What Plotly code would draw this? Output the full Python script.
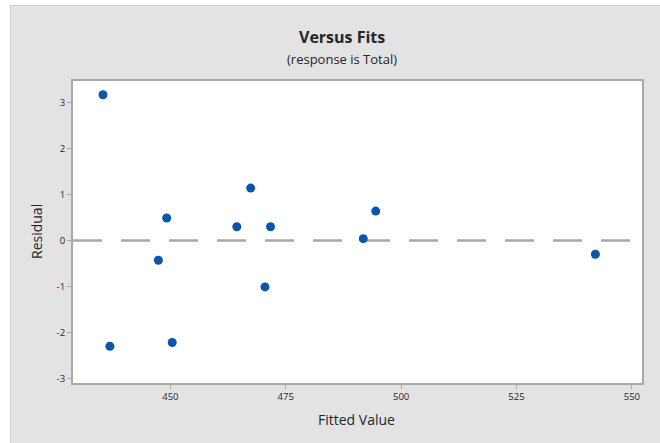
import plotly.graph_objects as go

fitted = [435.4, 436.9, 447.4, 449.2, 450.4, 464.4, 467.4, 470.5, 471.7, 491.8, 494.5, 542.1]
residual = [3.17, -2.30, -0.43, 0.49, -2.22, 0.30, 1.14, -1.01, 0.30, 0.04, 0.64, -0.30]
x_ticks = [450, 475, 500, 525, 550]
y_ticks = [-3, -2, -1, 0, 1, 2, 3]

W, H = 660, 443
L, R, T, B = 73, 642, 81, 383
pw, ph = R - L, B - T

def px(x):
    return (x - L) / pw

def py(y):
    return (B - y) / ph

FONT = "Open Sans"
TXT = "#262626"

fig = go.Figure()
fig.add_trace(go.Scatter(
    x=fitted, y=residual, mode="markers",
    marker=dict(symbol="circle", size=9, color="#0a56a8"),
    hoverinfo="x+y", showlegend=False,
))

axis_common = dict(
    showgrid=False, zeroline=False, showline=True, mirror=True,
    linecolor="#a8a8a8", linewidth=2,
    ticks="outside", ticklen=4, tickcolor="#a8a8a8", tickwidth=1,
    tickfont=dict(family=FONT, size=9.5, color=TXT),
)

fig.update_xaxes(range=[428.9, 552.2], tickvals=x_ticks, ticktext=[str(v) for v in x_ticks],
                 **axis_common)
fig.update_yaxes(range=[-3.10, 3.47], tickvals=y_ticks, ticktext=[str(v) for v in y_ticks],
                 **axis_common)

shapes = [
    # zero reference line
    dict(type="line", xref="paper", yref="y", x0=0, x1=1, y0=0, y1=0,
         line=dict(color="#a8a8a8", width=2.5, dash="29px,19px"), layer="below"),
    # white strips outside frame
    dict(type="rect", xref="paper", yref="paper", x0=px(0), x1=px(10), y0=py(H), y1=py(0),
         fillcolor="white", line=dict(width=0), layer="above"),
    dict(type="rect", xref="paper", yref="paper", x0=px(0), x1=px(W), y0=py(5), y1=py(0),
         fillcolor="white", line=dict(width=0), layer="above"),
    # frame border
    dict(type="rect", xref="paper", yref="paper", x0=px(10.5), x1=px(W + 2), y0=py(H + 2), y1=py(5.5),
         fillcolor="rgba(0,0,0,0)", line=dict(color="#cfcfcf", width=1), layer="above"),
]

annotations = [
    dict(text="<b>Versus Fits</b>", xref="paper", yref="paper", x=px(342), y=py(37),
         showarrow=False, font=dict(family=FONT, size=16, color=TXT), xanchor="center", yanchor="middle"),
    dict(text="(response is Total)", xref="paper", yref="paper", x=px(342), y=py(59),
         showarrow=False, font=dict(family=FONT, size=13, color=TXT), xanchor="center", yanchor="middle"),
    dict(text="Fitted Value", xref="paper", yref="paper", x=px(356), y=py(419),
         showarrow=False, font=dict(family=FONT, size=14, color=TXT), xanchor="center", yanchor="middle"),
    dict(text="Residual", xref="paper", yref="paper", x=px(36), y=py(232), textangle=-90,
         showarrow=False, font=dict(family=FONT, size=14, color=TXT), xanchor="center", yanchor="middle"),
]

fig.update_layout(
    width=W, height=H,
    margin=dict(l=L, r=W - R, t=T, b=H - B),
    paper_bgcolor="#e3e3e3", plot_bgcolor="white",
    shapes=shapes, annotations=annotations,
    showlegend=False,
)

fig.write_html("out.html", config={"displayModeBar": False},
               post_script="document.body.style.margin='0px';document.body.style.overflow='hidden';")
